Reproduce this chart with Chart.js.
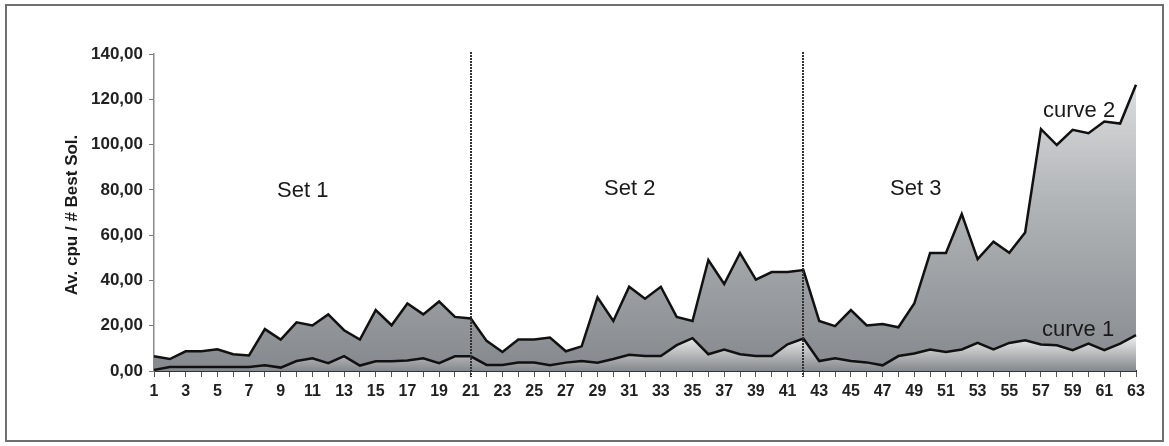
<!DOCTYPE html>
<html>
<head>
<meta charset="utf-8">
<title>Av. cpu / # Best Sol.</title>
<script src="https://cdn.jsdelivr.net/npm/chart.js@4/dist/chart.umd.min.js"></script>
<style>
  html, body { margin: 0; padding: 0; background: #ffffff; }
  #wrap { position: relative; width: 1169px; height: 446px; }
  #frame { position: absolute; left: 5px; top: 4px; width: 1155px; height: 434px; border: 2px solid #707070; pointer-events: none; }
  canvas { position: absolute; left: 0; top: 0; }
</style>
</head>
<body>
<div id="wrap">
  <canvas id="chart" width="1169" height="446"></canvas>
  <div id="frame"></div>
</div>
<script>
// Instance numbers along the x axis
const categories = [
  1, 2, 3, 4, 5, 6, 7, 8, 9, 10, 11, 12, 13, 14, 15, 16, 17, 18, 19, 20, 21,
  22, 23, 24, 25, 26, 27, 28, 29, 30, 31, 32, 33, 34, 35, 36, 37, 38, 39, 40, 41, 42,
  43, 44, 45, 46, 47, 48, 49, 50, 51, 52, 53, 54, 55, 56, 57, 58, 59, 60, 61, 62, 63
];

// curve 2 (upper area)
const curve2 = [
  6.5, 5.3, 8.7, 8.7, 9.6, 7.4, 6.9, 18.5, 13.9, 21.5, 20.1, 25.0, 18.0, 13.9, 26.9, 20.2, 29.8, 25.0, 30.7, 23.9, 23.2,
  13.3, 8.4, 13.9, 13.9, 14.8, 8.7, 10.9, 32.5, 22.1, 37.2, 31.9, 37.2, 23.9, 22.1, 49.0, 38.4, 52.1, 40.4, 43.7, 43.7, 44.6,
  22.1, 19.8, 26.9, 20.1, 20.7, 19.3, 29.8, 52.1, 52.1, 69.3, 49.4, 57.1, 52.2, 61.2, 106.8, 99.8, 106.5, 105.0, 110.2, 109.3, 126.4
];

// curve 1 (lower area)
const curve1 = [
  0.5, 1.8, 1.8, 1.8, 1.8, 1.8, 1.8, 2.5, 1.5, 4.4, 5.6, 3.5, 6.6, 2.4, 4.3, 4.3, 4.6, 5.6, 3.5, 6.5, 6.5,
  2.7, 2.7, 3.7, 3.7, 2.5, 3.7, 4.4, 3.7, 5.3, 7.2, 6.6, 6.6, 11.4, 14.5, 7.4, 9.5, 7.4, 6.6, 6.6, 11.8, 14.3,
  4.4, 5.6, 4.4, 3.8, 2.5, 6.6, 7.7, 9.5, 8.4, 9.5, 12.4, 9.5, 12.4, 13.6, 11.7, 11.4, 9.2, 12.1, 9.2, 12.1, 15.8
];

// Value axis ticks
const yTicks = [0, 20, 40, 60, 80, 100, 120, 140];

// Set boundaries (last instance of each of the first two sets)
const setBoundaries = [21, 42];

const setLabels = [
  { text: 'Set 1', x: 277, y: 197 },
  { text: 'Set 2', x: 604, y: 195 },
  { text: 'Set 3', x: 890, y: 195 }
];
const curveLabels = [
  { text: 'curve 2', x: 1043, y: 117 },
  { text: 'curve 1', x: 1042, y: 336 }
];

const FONT = '"Liberation Sans", Arial, Helvetica, sans-serif';

function verticalGradient(ctx, area, top, stops) {
  const g = ctx.createLinearGradient(0, top, 0, area.bottom);
  stops.forEach(s => g.addColorStop(s[0], s[1]));
  return g;
}

// Dotted separators between the sets plus the free text labels
const overlayPlugin = {
  id: 'overlay',
  afterDatasetsDraw(chart) {
    const { ctx, chartArea, scales } = chart;
    ctx.save();
    ctx.strokeStyle = '#333333';
    ctx.lineWidth = 2;
    ctx.setLineDash([2, 1]);
    setBoundaries.forEach(c => {
      const x = Math.round(scales.x.getPixelForValue(categories.indexOf(c)));
      ctx.beginPath();
      ctx.moveTo(x, chartArea.top - 2);
      ctx.lineTo(x, chartArea.bottom + 6);
      ctx.stroke();
    });
    ctx.setLineDash([]);

    ctx.fillStyle = '#1a1a1a';
    ctx.font = '22px ' + FONT;
    ctx.textAlign = 'left';
    ctx.textBaseline = 'alphabetic';
    setLabels.concat(curveLabels).forEach(l => ctx.fillText(l.text, l.x, l.y));

    // Value axis title
    ctx.translate(72, 215);
    ctx.rotate(-Math.PI / 2);
    ctx.font = 'bold 17px ' + FONT;
    ctx.textAlign = 'center';
    ctx.textBaseline = 'middle';
    ctx.fillText('Av. cpu / # Best Sol.', 0, 0);
    ctx.restore();
  }
};

new Chart(document.getElementById('chart'), {
  type: 'line',
  data: {
    labels: categories,
    datasets: [
      {
        label: 'curve 1',
        data: curve1,
        order: 0,
        borderColor: '#111111',
        borderWidth: 2.5,
        pointRadius: 0,
        tension: 0,
        fill: 'origin',
        backgroundColor(context) {
          const area = context.chart.chartArea;
          if (!area) return '#a0a4a8';
          const top = context.chart.scales.y.getPixelForValue(16);
          return verticalGradient(context.chart.ctx, area, top, [[0, '#f2f2f2'], [1, '#84888c']]);
        }
      },
      {
        label: 'curve 2',
        data: curve2,
        order: 1,
        borderColor: '#111111',
        borderWidth: 2.5,
        pointRadius: 0,
        tension: 0,
        fill: 'origin',
        backgroundColor(context) {
          const area = context.chart.chartArea;
          if (!area) return '#9a9ea2';
          return verticalGradient(context.chart.ctx, area, area.top, [[0, '#e6e7e8'], [0.45, '#b3b6b9'], [1, '#85898d']]);
        }
      }
    ]
  },
  options: {
    responsive: false,
    animation: false,
    devicePixelRatio: 1,
    layout: { padding: { left: 0, right: 33, top: 54, bottom: 0 } },
    plugins: {
      legend: { display: false },
      tooltip: { enabled: false },
      title: { display: false }
    },
    scales: {
      x: {
        type: 'category',
        offset: false,
        afterFit(scale) { scale.height = 75; },
        grid: { drawOnChartArea: false, drawTicks: true, tickLength: 6, color: '#555555', lineWidth: 1 },
        border: { display: true, color: '#333333', width: 2 },
        ticks: {
          autoSkip: false,
          maxRotation: 0,
          minRotation: 0,
          padding: 5,
          color: '#222222',
          font: { family: FONT, size: 16, weight: 'bold' },
          callback(value, index) { return index % 2 === 0 ? String(categories[index]) : ''; }
        }
      },
      y: {
        min: yTicks[0],
        max: yTicks[yTicks.length - 1],
        afterFit(scale) { scale.width = 154; },
        afterBuildTicks(scale) { scale.ticks = yTicks.map(v => ({ value: v })); },
        grid: { drawOnChartArea: false, drawTicks: true, tickLength: 5, color: '#777777', lineWidth: 1 },
        border: { display: true, color: '#8a8a8a', width: 1.5 },
        ticks: {
          padding: 6,
          color: '#222222',
          font: { family: FONT, size: 17, weight: 'bold' },
          callback(value) { return value.toFixed(2).replace('.', ','); }
        }
      }
    }
  },
  plugins: [overlayPlugin]
});
</script>
</body>
</html>
